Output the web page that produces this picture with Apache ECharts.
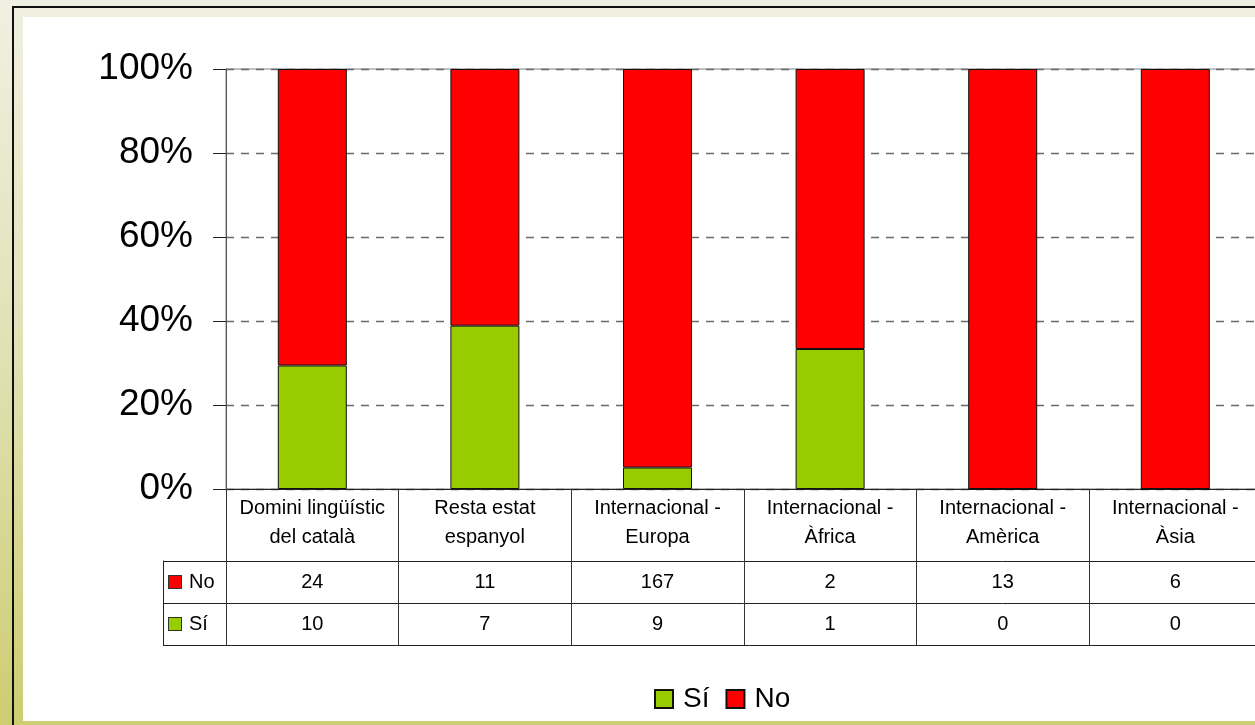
<!DOCTYPE html>
<html>
<head>
<meta charset="utf-8">
<script src="https://cdn.jsdelivr.net/npm/echarts@6/dist/echarts.min.js"></script>
<style>
  html, body { margin: 0; padding: 0; width: 1255px; height: 725px; overflow: hidden; }
  body { background: linear-gradient(to bottom, #f0f0e2 0%, #e2e2b8 45%, #cdcd72 100%); position: relative; }
  #frame { position: absolute; left: 12px; top: 6px; right: -10px; bottom: -10px;
           border-left: 2px solid #111; border-top: 2px solid #111; }
  #panel { position: absolute; left: 23px; top: 17px; width: 1232px; height: 704px; background: #fff; }
  /* the plot runs past the right edge of the page, so the canvas is wider */
  #chart { position: absolute; left: 0; top: 0; width: 1300px; height: 725px; }
</style>
</head>
<body>
<div id="frame"></div>
<div id="panel"></div>
<div id="chart"></div>
<script>
// Regions and answer counts
const categories = [
  'Domini lingüístic\ndel català',
  'Resta estat\nespanyol',
  'Internacional -\nEuropa',
  'Internacional -\nÀfrica',
  'Internacional -\nAmèrica',
  'Internacional -\nÀsia'
];
const siCounts = [10, 7, 9, 1, 0, 0];
const noCounts = [24, 11, 167, 2, 13, 6];
const rowNames = ['Sí', 'No'];          // table rows, bottom to top
const percentTicks = [0, 20, 40, 60, 80, 100];

const GREEN = '#99cc00';
const RED = '#ff0000';
const FONT = '"Liberation Sans", Arial, sans-serif';

// 100% stacked shares
const totals = siCounts.map((v, i) => v + noCounts[i]);
const siShare = siCounts.map((v, i) => totals[i] ? v / totals[i] * 100 : 0);
const noShare = noCounts.map((v, i) => totals[i] ? v / totals[i] * 100 : 0);

// Cells of the data table: [column, row, count]
const tableCells = [];
categories.forEach((c, i) => {
  tableCells.push([i, 0, siCounts[i]]);
  tableCells.push([i, 1, noCounts[i]]);
});

const PLOT_W = 1035.6;

const chart = echarts.init(document.getElementById('chart'), null, { renderer: 'canvas' });

chart.setOption({
  backgroundColor: 'transparent',
  animation: false,
  textStyle: { fontFamily: FONT },
  grid: [
    { left: 226, top: 69, width: PLOT_W, height: 420, show: true,
      backgroundColor: 'transparent', borderColor: '#808080', borderWidth: 1 },
    { left: 226, top: 561, width: PLOT_W, height: 84 }
  ],
  xAxis: [
    { type: 'category', gridIndex: 0, data: categories,
      axisLine: { lineStyle: { color: '#222', width: 1 } },
      axisTick: { show: true, length: 72, lineStyle: { color: '#333' } },
      axisLabel: { color: '#000', fontSize: 20, lineHeight: 29, margin: 5, fontFamily: FONT, interval: 0 },
      splitLine: { show: false } },
    { type: 'category', gridIndex: 1, data: categories,
      axisLine: { show: true, lineStyle: { color: '#222', width: 1 } },
      axisTick: { show: false }, axisLabel: { show: false },
      splitLine: { show: true, lineStyle: { color: '#333', width: 1 } } }
  ],
  yAxis: [
    { type: 'value', gridIndex: 0, min: 0, max: 100, interval: 20,
      axisLine: { show: true, lineStyle: { color: '#555' } },
      axisTick: { show: true, length: 13, lineStyle: { color: '#222' } },
      axisLabel: { color: '#000', fontSize: 37, margin: 33, fontFamily: FONT,
                   formatter: v => percentTicks.includes(v) ? v + '%' : '' },
      splitLine: { show: true, lineStyle: { color: '#6a6a6a', type: [8, 7], width: 1.3 } } },
    { type: 'category', gridIndex: 1, data: rowNames,
      axisLine: { show: true, lineStyle: { color: '#333' } },
      axisTick: { show: true, length: 63, lineStyle: { color: '#222' } },
      axisLabel: { align: 'left', margin: 57,
        formatter: v => '{' + (v === 'No' ? 'r' : 'g') + '|}{t|' + v + '}',
        rich: {
          r: { width: 12, height: 12, backgroundColor: RED, borderColor: '#333', borderWidth: 1 },
          g: { width: 12, height: 12, backgroundColor: GREEN, borderColor: '#333', borderWidth: 1 },
          t: { fontSize: 20, color: '#000', fontFamily: FONT, padding: [0, 0, 0, 8] }
        } },
      splitLine: { show: true, lineStyle: { color: '#222', width: 1 } } },
    { type: 'category', gridIndex: 1, data: rowNames, position: 'left', offset: 63,
      axisLine: { show: true, lineStyle: { color: '#222' } },
      axisTick: { show: false }, axisLabel: { show: false }, splitLine: { show: false } }
  ],
  legend: {
    data: ['Sí', 'No'],
    left: 649, top: 680,
    icon: 'rect', itemWidth: 18, itemHeight: 18, itemGap: 16,
    textStyle: { fontSize: 28, color: '#000', fontFamily: FONT, padding: [0, 0, 0, 5] }
  },
  series: [
    { name: 'Sí', type: 'bar', stack: 'share', xAxisIndex: 0, yAxisIndex: 0,
      data: siShare, barWidth: 69,
      itemStyle: { color: GREEN, borderColor: '#111', borderWidth: 1 } },
    { name: 'No', type: 'bar', stack: 'share', xAxisIndex: 0, yAxisIndex: 0,
      data: noShare, barWidth: 69,
      itemStyle: { color: RED, borderColor: '#111', borderWidth: 1 } },
    { name: 'table', type: 'custom', xAxisIndex: 1, yAxisIndex: 1,
      data: tableCells, encode: { x: 0, y: 1 },
      renderItem: (params, api) => {
        const p = api.coord([api.value(0), api.value(1)]);
        return { type: 'text', x: p[0], y: p[1],
          style: { text: String(api.value(2)), fill: '#000', fontSize: 20, fontFamily: FONT,
                   align: 'center', verticalAlign: 'middle' } };
      } }
  ]
});
</script>
</body>
</html>
